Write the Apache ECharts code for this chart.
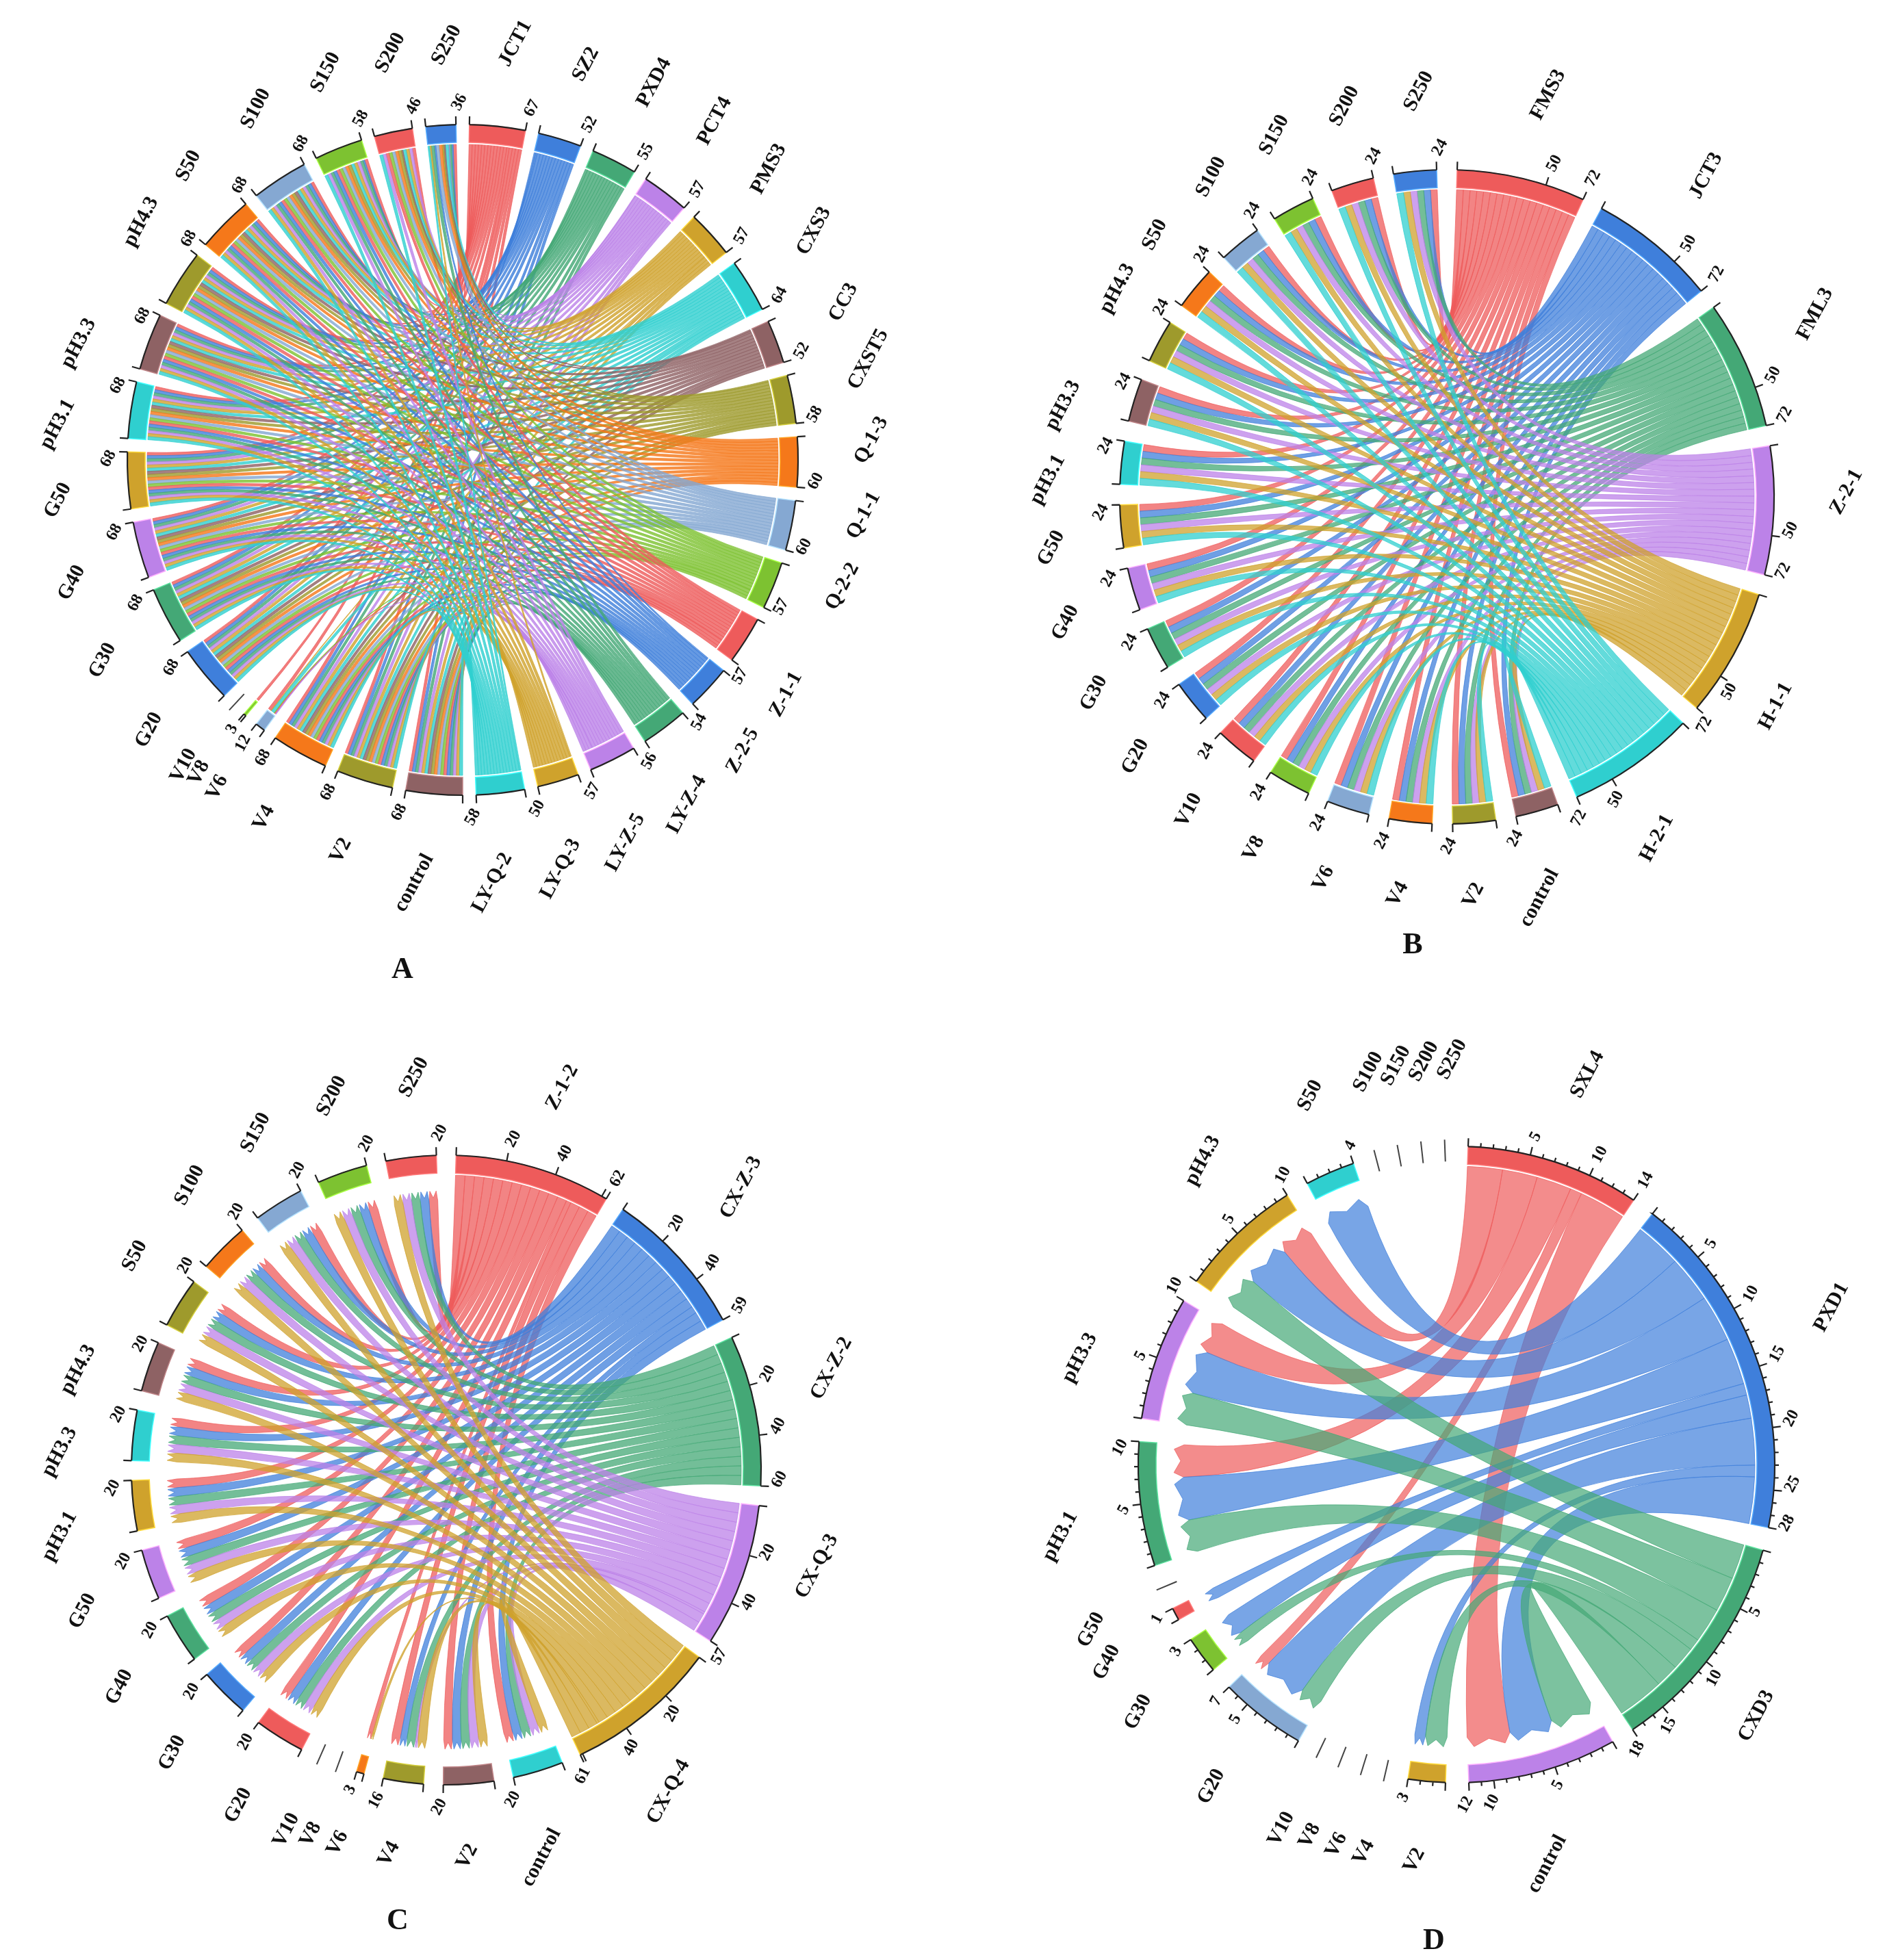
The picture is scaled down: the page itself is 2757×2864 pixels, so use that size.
<!DOCTYPE html>
<html>
<head>
<meta charset="utf-8">
<script src="https://cdn.jsdelivr.net/npm/echarts@6/dist/echarts.min.js"></script>
<style>html,body{margin:0;padding:0;background:#fff}#chart{width:2757px;height:2864px}</style>
</head>
<body>
<div id="chart"></div>
<script>
// conditions, listed clockwise from the bottom (control) up to the top (S250)
const conditions = ['control','V2','V4','V6','V8','V10','G20','G30','G40','G50','pH3.1','pH3.3','pH4.3','S50','S100','S150','S200','S250'];

const strainsA = ['JCT1','SZ2','PXD4','PCT4','PMS3','CXS3','CC3','CXST5','Q-1-3','Q-1-1','Q-2-2','Z-1-1','Z-2-5','LY-Z-4','LY-Z-5','LY-Q-3','LY-Q-2'];
const strainTotalsA = [67,52,55,57,57,64,52,58,60,60,57,57,54,56,57,50,58];
const condTotalsA = [68,68,68,12,3,0,68,68,68,68,68,68,68,68,68,58,46,36];

const strainsB = ['FMS3','JCT3','FML3','Z-2-1','H-1-1','H-2-1'];
const strainTotalsB = [72,72,72,72,72,72];
const condTotalsB = [24,24,24,24,24,24,24,24,24,24,24,24,24,24,24,24,24,24];

const strainsC = ['Z-1-2','CX-Z-3','CX-Z-2','CX-Q-3','CX-Q-4'];
const strainTotalsC = [62,59,60,57,61];
const condTotalsC = [20,20,16,3,0,0,20,20,20,20,20,20,20,20,20,20,20,20];

const strainsD = ['SXL4','PXD1','CXD3'];
const strainTotalsD = [14,28,18];
const condTotalsD = [12,3,0,0,0,0,7,3,1,0,10,10,10,4,0,0,0,0];
// links of panel D, one row per strain, columns in the order of `conditions`
const linksSXL4 = [4,0,0,0,0,0,1,0,0,0,3,3,3,0,0,0,0,0];
const linksPXD1 = [4,1,0,0,0,0,4,2,1,0,4,4,4,4,0,0,0,0];
const linksCXD3 = [4,2,0,0,0,0,2,1,0,0,3,3,3,0,0,0,0,0];

const palette = ['#EE5B5B','#3F7FDB','#44A876','#BC82E8','#CFA22C','#2FCFCF','#8E6264','#9E9A2C','#F5781A','#85A8D2','#7DC231'];

// spread each condition's total over the strains (at most 4 per pair)
function allocate(sTot, cTot) {
  const remS = sTot.slice(), remC = cTot.slice();
  const m = sTot.map(() => cTot.map(() => 0));
  const cOrder = cTot.map((v, i) => i).sort((a, b) => cTot[b] - cTot[a]);
  cOrder.forEach(j => {
    const sOrder = sTot.map((v, i) => i).sort((a, b) => remS[b] - remS[a]);
    sOrder.forEach(i => {
      const w = Math.min(4, remS[i], remC[j]);
      if (w > 0) { m[i][j] += w; remS[i] -= w; remC[j] -= w; }
    });
  });
  return m;
}

const panels = [
  {strains: strainsA, sTot: strainTotalsA, cTot: condTotalsA, cx: 676, cy: 672, R: 490, gap: 2.3, step: 0, arrow: false, letter: 'A', lx: 588, ly: 1418, alpha: 0.8},
  {strains: strainsB, sTot: strainTotalsB, cTot: condTotalsB, cx: 2114, cy: 726, R: 478, gap: 3.6, step: 50, arrow: false, letter: 'B', lx: 2064, ly: 1382, alpha: 0.75},
  {strains: strainsC, sTot: strainTotalsC, cTot: condTotalsC, cx: 652, cy: 2148, R: 460, gap: 3.6, step: 20, arrow: true, letter: 'C', lx: 581, ly: 2808, alpha: 0.75},
  {strains: strainsD, sTot: strainTotalsD, cTot: condTotalsD, cx: 2128, cy: 2140, R: 465, gap: 4.2, step: 5, arrow: true, letter: 'D', lx: 2095, ly: 2837, alpha: 0.7,
   matrix: [linksSXL4, linksPXD1, linksCXD3]}
];

const rad = d => d * Math.PI / 180;

function layout(p) {
  const names = p.strains.concat(conditions);
  const vals = p.sTot.concat(p.cTot);
  const n = names.length;
  const total = vals.reduce((a, b) => a + b, 0);
  const k = (360 - n * p.gap) / total;
  let a = p.gap / 2;
  const nodes = names.map((nm, i) => {
    const s = a, e = a + vals[i] * k;
    a = e + p.gap;
    return {name: nm, value: vals[i], start: s, end: e, mid: (s + e) / 2, color: palette[i % palette.length], k: k};
  });
  const m = p.matrix || allocate(p.sTot, p.cTot);
  const ns = p.strains.length;
  const links = [];
  m.forEach((row, i) => row.forEach((w, j) => { if (w > 0) links.push({s: i, t: ns + j, w: w}); }));
  // order the ends within each node so that ribbons do not cross at the node
  nodes.forEach((nd, idx) => {
    const mine = links.filter(l => l.s === idx || l.t === idx).map(l => ({l: l, other: l.s === idx ? l.t : l.s, side: l.s === idx ? 's' : 't'}));
    mine.sort((x, y) => ((nodes[y.other].mid - nd.mid + 360) % 360) - ((nodes[x.other].mid - nd.mid + 360) % 360));
    let c = nd.start;
    const span = nd.end - nd.start;
    const sum = mine.reduce((q, o) => q + o.l.w, 0);
    mine.forEach(o => {
      const d = span * o.l.w / sum;
      o.l[o.side + 'a'] = c; o.l[o.side + 'b'] = c + d; c += d;
    });
  });
  return {nodes: nodes, links: links};
}

const series = [];
panels.forEach(p => {
  const L = layout(p);
  const cx = p.cx, cy = p.cy, R = p.R, band = 26;
  const R0 = R - band;
  const pt = (r, d) => [cx + r * Math.sin(rad(d)), cy - r * Math.cos(rad(d))];
  const P = (r, d) => pt(r, d).map(v => v.toFixed(2)).join(' ');
  const arcTo = (r, d0, d1) => 'A ' + r + ' ' + r + ' 0 ' + (Math.abs(d1 - d0) > 180 ? 1 : 0) + ' ' + (d1 > d0 ? 1 : 0) + ' ' + P(r, d1);
  const rs = R0 - 3;
  const rt = p.arrow ? R0 - 40 : R0 - 3;

  series.push({
    type: 'custom', coordinateSystem: 'none', silent: true,
    data: L.links.map(l => [l.w]),
    renderItem: function (params) {
      const l = L.links[params.dataIndex];
      const col = L.nodes[l.s].color;
      let d = 'M ' + P(rs, l.sa) + ' ' + arcTo(rs, l.sa, l.sb) +
        ' Q ' + cx + ' ' + cy + ' ' + P(rt, l.ta);
      if (p.arrow) {
        const mid = (l.ta + l.tb) / 2;
        d += ' L ' + P(rt + 14, l.ta + 0.15 * (l.tb - l.ta)) + ' L ' + P(rt + 4, mid) + ' L ' + P(rt + 14, l.tb - 0.15 * (l.tb - l.ta)) + ' L ' + P(rt, l.tb);
      } else {
        d += ' ' + arcTo(rt, l.ta, l.tb);
      }
      d += ' Q ' + cx + ' ' + cy + ' ' + P(rs, l.sa) + ' Z';
      return {type: 'path', shape: {pathData: d}, style: {fill: echarts.color.modifyAlpha(col, p.alpha), stroke: echarts.color.modifyAlpha(col, 0.9), lineWidth: 0.8}};
    }
  });

  const font = s => 'bold ' + s + 'px "Liberation Serif", "Times New Roman", serif';
  const rot = rad(62);
  const dir = [Math.cos(rot), -Math.sin(rot)];
  const alignAt = d => (Math.sin(rad(d)) * dir[0] - Math.cos(rad(d)) * dir[1]) >= 0 ? 'left' : 'right';
  const label = (r, d, txt, size) => ({
    type: 'text', x: pt(r, d)[0], y: pt(r, d)[1], rotation: rot,
    style: {text: txt, font: font(size), fill: '#111', align: alignAt(d), verticalAlign: 'middle'}
  });

  series.push({
    type: 'custom', coordinateSystem: 'none', silent: true,
    data: L.nodes.map(nd => [nd.value]),
    renderItem: function (params) {
      const nd = L.nodes[params.dataIndex];
      const kids = [];
      if (nd.value === 0) {
        kids.push({type: 'line', shape: {x1: pt(R0 + 4, nd.start)[0], y1: pt(R0 + 4, nd.start)[1], x2: pt(R + 10, nd.start)[0], y2: pt(R + 10, nd.start)[1]}, style: {stroke: '#444', lineWidth: 2}});
      } else {
        const dBand = 'M ' + P(R, nd.start) + ' ' + arcTo(R, nd.start, nd.end) + ' L ' + P(R0, nd.end) + ' ' + arcTo(R0, nd.end, nd.start) + ' Z';
        kids.push({type: 'path', shape: {pathData: dBand}, style: {fill: nd.color, stroke: echarts.color.lift(nd.color, -0.35), lineWidth: 1.5}});
        // axis along the outer edge, with ticks
        let ax = 'M ' + P(R, nd.start) + ' ' + arcTo(R, nd.start, nd.end);
        const ticks = [0];
        if (p.step) for (let v = p.step; v < nd.value; v += p.step) ticks.push(v);
        ticks.push(nd.value);
        if (p.step === 5) for (let v = 1; v < nd.value; v++) if (v % 5) ax += ' M ' + P(R, nd.start + v * nd.k) + ' L ' + P(R + 6, nd.start + v * nd.k);
        ticks.forEach(v => { ax += ' M ' + P(R, nd.start + v * nd.k) + ' L ' + P(R + 12, nd.start + v * nd.k); });
        kids.push({type: 'path', shape: {pathData: ax}, style: {fill: null, stroke: '#222', lineWidth: 2.2}});
        ticks.slice(1).forEach(v => {
          if (v !== nd.value && nd.value - v < p.step * 0.4) return;
          kids.push(label(R + 22, nd.start + v * nd.k, String(v), 24));
        });
      }
      kids.push(label(R + (p.step === 5 ? 100 : 90), nd.mid, nd.name, 30));
      return {type: 'group', children: kids};
    }
  });

  series.push({
    type: 'custom', coordinateSystem: 'none', silent: true, data: [[0]],
    renderItem: () => ({type: 'text', x: p.lx, y: p.ly, style: {text: p.letter, font: font(44), fill: '#111', align: 'center', verticalAlign: 'middle'}})
  });
});

const chart = echarts.init(document.getElementById('chart'));
chart.setOption({animation: false, backgroundColor: '#fff', series: series});
</script>
</body>
</html>
